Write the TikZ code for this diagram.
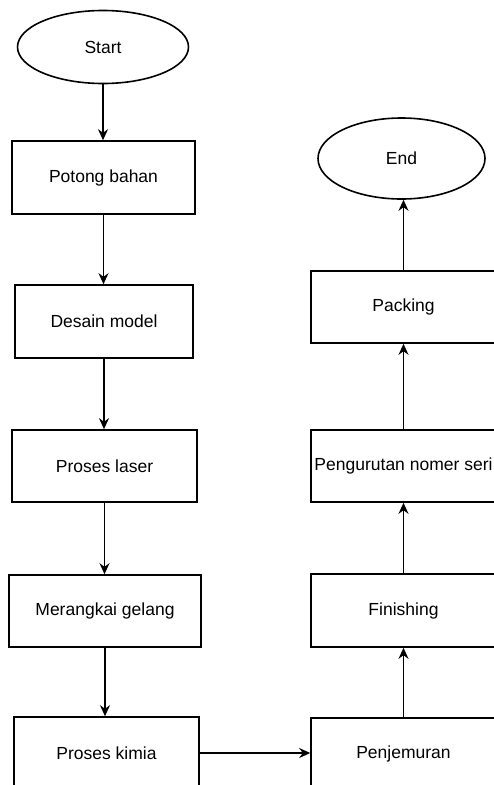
\documentclass[tikz,border=0pt]{standalone}
\usepackage{fontspec}
\setmainfont{Liberation Sans}
\usetikzlibrary{shapes.geometric,arrows.meta}
\begin{document}
\begin{tikzpicture}[x=1pt,y=-1pt,
  font=\fontsize{17.5}{20}\selectfont,
  procbox/.style={draw, line width=1.6pt, rectangle, inner sep=0pt, minimum height=72pt},
  termin/.style={draw, line width=1.6pt, ellipse, inner sep=0pt},
  flow/.style={draw, line width=1.6pt, -{Stealth[length=11pt,width=10pt]}}]
\useasboundingbox (0,0) rectangle (494,785);
\clip (0,0) rectangle (494,785);
\fill[white] (0,0) rectangle (494,785);
% left column
\node[termin, minimum width=171pt, minimum height=73pt] (start) at (103,47) {Start};
\node[procbox, minimum width=183pt, minimum height=73pt] (potong) at (103.5,177.5) {Potong bahan};
\node[procbox, minimum width=178pt, minimum height=73pt] (desain) at (104,321.5) {Desain model};
\node[procbox, minimum width=185pt] (laser) at (104.5,466) {Proses laser};
\node[procbox, minimum width=192pt] (rangkai) at (105,611) {Merangkai gelang};
\node[procbox, minimum width=185pt] (kimia) at (106.5,753) {Proses kimia};
% right column
\node[termin, minimum width=167pt, minimum height=81pt] (end) at (401.5,158.5) {End};
\node[procbox, minimum width=185pt] (packing) at (403.5,307) {Packing};
\node[procbox, minimum width=185pt] (urut) at (403.5,466) {Pengurutan nomer seri};
\node[procbox, minimum width=185pt, minimum height=73pt] (finish) at (403.5,610.5) {Finishing};
\node[procbox, minimum width=185pt] (jemur) at (403.5,754) {Penjemuran};
% connectors
\draw[flow] (start.south) -- (start.south |- potong.north);
\draw[flow] (potong.south) -- (potong.south |- desain.north);
\draw[flow] (desain.south) -- (desain.south |- laser.north);
\draw[flow] (laser.south) -- (laser.south |- rangkai.north);
\draw[flow] (rangkai.south) -- (rangkai.south |- kimia.north);
\draw[flow] (kimia.east) -- (kimia.east -| jemur.west);
\draw[flow] (jemur.north) -- (jemur.north |- finish.south);
\draw[flow] (finish.north) -- (finish.north |- urut.south);
\draw[flow] (urut.north) -- (urut.north |- packing.south);
\draw[flow] (packing.north) -- (packing.north |- end.south);
\end{tikzpicture}
\end{document}
